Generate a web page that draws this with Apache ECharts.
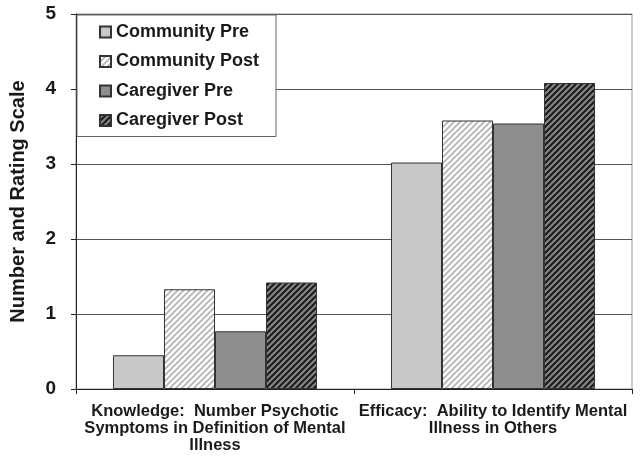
<!DOCTYPE html>
<html>
<head>
<meta charset="utf-8">
<script src="https://cdn.jsdelivr.net/npm/echarts@6/dist/echarts.min.js"></script>
<style>
html,body{margin:0;padding:0;background:#fff;}
#chart{width:643px;height:458px;}
</style>
</head>
<body>
<div id="chart"></div>
<script>
var categories = ['Knowledge:  Number Psychotic\nSymptoms in Definition of Mental\nIllness', 'Efficacy:  Ability to Identify Mental\nIllness in Others'];
var seriesNames = ['Community Pre', 'Community Post', 'Caregiver Pre', 'Caregiver Post'];
var communityPre = [0.45, 3.02];
var communityPost = [1.33, 3.58];
var caregiverPre = [0.77, 3.54];
var caregiverPost = [1.42, 4.08];
var yTicks = [0, 1, 2, 3, 4, 5];

function stripes(bg, fg, lw) {
  var s = 6;
  var c = document.createElement('canvas');
  c.width = s; c.height = s;
  var g = c.getContext('2d');
  g.fillStyle = bg; g.fillRect(0, 0, s, s);
  g.strokeStyle = fg; g.lineWidth = lw;
  g.beginPath();
  g.moveTo(-1, s + 1); g.lineTo(s + 1, -1);
  g.moveTo(-s / 2 - 1, s / 2 + 1); g.lineTo(s / 2 + 1, -s / 2 - 1);
  g.moveTo(s / 2 - 1, s * 1.5 + 1); g.lineTo(s * 1.5 + 1, s / 2 - 1);
  g.stroke();
  return { image: c, repeat: 'repeat' };
}

var styles = [
  { color: '#c8c8c8' },
  { color: stripes('#ffffff', '#b4b4b4', 1.8) },
  { color: '#8e8e8e' },
  { color: stripes('#858585', '#1a1a1a', 2.0) }
];
var dataSets = [communityPre, communityPost, caregiverPre, caregiverPost];

var font = '"Liberation Sans", Arial, Helvetica, sans-serif';
var chart = echarts.init(document.getElementById('chart'), null, { renderer: 'canvas' });
chart.setOption({
  animation: false,
  backgroundColor: '#ffffff',
  grid: { left: 76, right: 11, top: 14, bottom: 69, show: true, borderColor: '#999', borderWidth: 1, containLabel: false },
  legend: {
    orient: 'vertical', left: 77, top: 15,
    backgroundColor: '#fff', borderColor: '#666', borderWidth: 1,
    padding: [8, 17, 7, 22],
    icon: 'rect',
    itemWidth: 11, itemHeight: 11, itemGap: 11.5,
    textStyle: { fontFamily: font, fontWeight: 'bold', fontSize: 18, color: '#1a1a1a' },
    data: seriesNames
  },
  xAxis: {
    type: 'category', data: categories,
    axisLine: { lineStyle: { color: '#222', width: 1 } },
    axisTick: { show: true, length: 5, lineStyle: { color: '#222' } },
    axisLabel: { interval: 0, margin: 14, fontFamily: font, fontWeight: 'bold', fontSize: 16.5, lineHeight: 17, color: '#1a1a1a', align: 'center' }
  },
  yAxis: {
    type: 'value', min: yTicks[0], max: yTicks[yTicks.length - 1], interval: 1,
    name: 'Number and Rating Scale', nameLocation: 'middle', nameGap: 48,
    nameTextStyle: { fontFamily: font, fontWeight: 'bold', fontSize: 20, color: '#1a1a1a' },
    axisLine: { show: true, lineStyle: { color: '#222', width: 1 } },
    axisTick: { show: true, length: 5, lineStyle: { color: '#222' } },
    axisLabel: { margin: 20, fontFamily: font, fontWeight: 'bold', fontSize: 19, color: '#1a1a1a' },
    splitLine: { show: true, lineStyle: { color: '#555', width: 1 } }
  },
  series: seriesNames.map(function (n, i) {
    return {
      name: n, type: 'bar', data: dataSets[i],
      barGap: '0%', barCategoryGap: '26.6%',
      itemStyle: { color: styles[i].color, borderColor: '#333', borderWidth: 1 }
    };
  })
});
</script>
</body>
</html>
